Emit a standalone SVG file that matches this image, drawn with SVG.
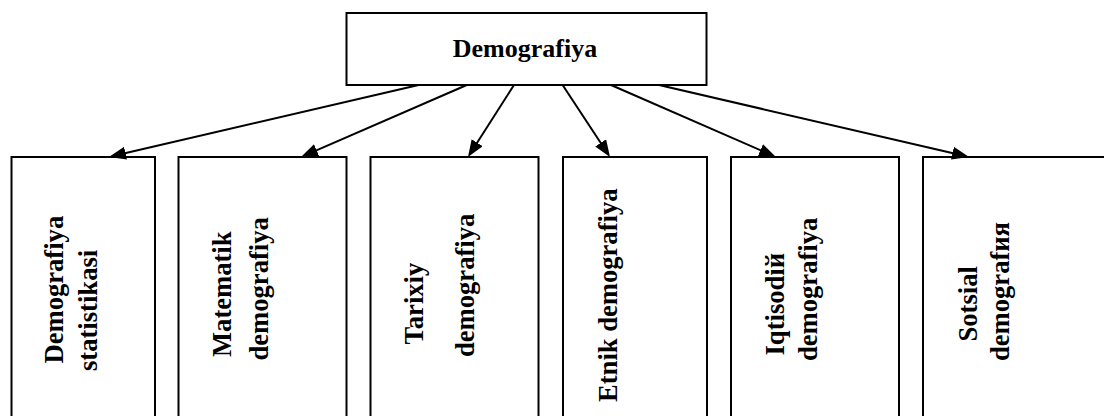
<svg xmlns="http://www.w3.org/2000/svg" width="1104" height="416" viewBox="0 0 1104 416">
<style>
.box{fill:#fff;stroke:#000;stroke-width:2}
.t{font-family:"Liberation Serif","Times New Roman",serif;font-weight:bold;font-size:26px;fill:#000}
.v{font-size:26.6px}
.c{stroke:#000;stroke-width:2;fill:none;marker-end:url(#ah)}
</style>
<defs>
<marker id="ah" markerUnits="userSpaceOnUse" markerWidth="17" markerHeight="13" refX="14" refY="6.5" orient="auto">
<path d="M0,0 L17,6.5 L0,13 z" fill="#000"/>
</marker>
</defs>
<rect width="1104" height="416" fill="#fff"/>
<g id="root">
<rect class="box" x="346.5" y="13" width="360" height="72"/>
<text class="t" x="525" y="57" text-anchor="middle">Demografiya</text>
</g>
<g id="n1">
<rect class="box" x="11.5" y="157" width="143.5" height="270"/>
<text class="t v" transform="translate(63,363.5) rotate(-90)">Demografiya</text>
<text class="t v" transform="translate(96.5,371) rotate(-90)">statistikasi</text>
</g>
<g id="n2">
<rect class="box" x="178.5" y="157" width="168" height="270"/>
<text class="t v" transform="translate(230.5,357) rotate(-90)">Matematik</text>
<text class="t v" transform="translate(268,360.5) rotate(-90)">demografiya</text>
</g>
<g id="n3">
<rect class="box" x="370.5" y="157" width="168" height="270"/>
<text class="t v" transform="translate(423.3,344.5) rotate(-90)">Tarixiy</text>
<text class="t v" transform="translate(474,357) rotate(-90)">demografiya</text>
</g>
<g id="n4">
<rect class="box" x="563" y="157" width="144" height="270"/>
<text class="t v" transform="translate(617,402) rotate(-90)">Etnik demografiya</text>
</g>
<g id="n5">
<rect class="box" x="731" y="157" width="168" height="270"/>
<text class="t v" transform="translate(784,355.5) rotate(-90)">Iqtisodiй</text>
<text class="t v" transform="translate(817,361) rotate(-90)">demografiya</text>
</g>
<g id="n6">
<rect class="box" x="923" y="157" width="200" height="270"/>
<text class="t v" transform="translate(977,341.5) rotate(-90)">Sotsial</text>
<text class="t v" transform="translate(1008.5,361) rotate(-90)">demografия</text>
</g>
<g id="connectors">
<line class="c" x1="418.6" y1="85" x2="111.9" y2="156.3"/>
<line class="c" x1="466.8" y1="85" x2="303.75" y2="155.8"/>
<line class="c" x1="514" y1="85" x2="469.6" y2="154.5"/>
<line class="c" x1="562.6" y1="85" x2="608.35" y2="154.5"/>
<line class="c" x1="611" y1="85" x2="773.25" y2="155.8"/>
<line class="c" x1="659" y1="85" x2="966.1" y2="156.3"/>
</g>
</svg>
